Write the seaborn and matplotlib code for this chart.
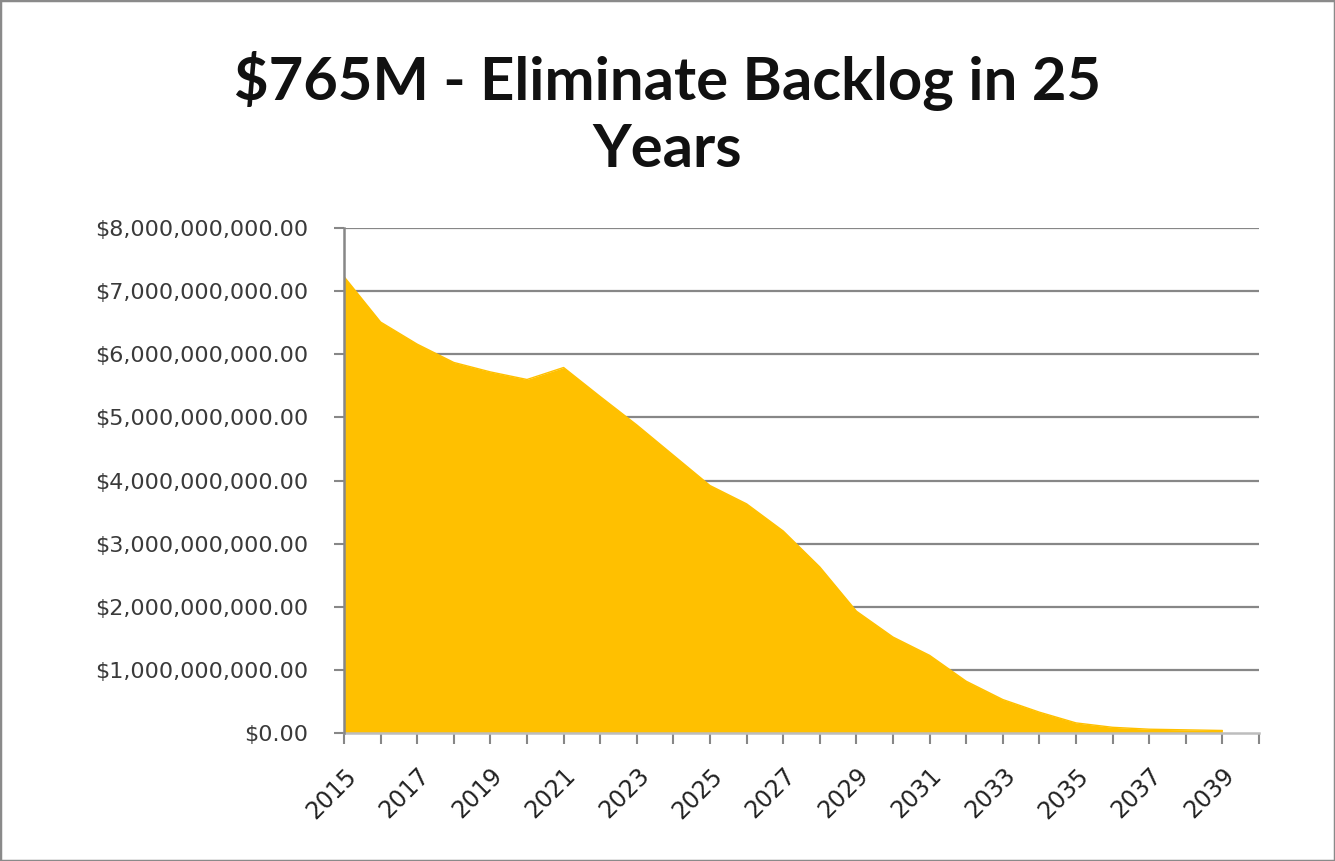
import matplotlib
matplotlib.use("Agg")
import matplotlib.pyplot as plt
from matplotlib.patches import Rectangle
from matplotlib.ticker import FuncFormatter, FixedLocator
import seaborn as sns
import pandas as pd

# Remaining backlog per year (billions of dollars)
years = list(range(2015, 2040))
backlog_billions = [7.23, 6.51, 6.16, 5.87, 5.72, 5.60, 5.79, 5.33, 4.88, 4.40,
                    3.92, 3.63, 3.20, 2.63, 1.93, 1.52, 1.23, 0.82, 0.53, 0.33,
                    0.16, 0.09, 0.06, 0.05, 0.04]
y_ticks_billions = [0, 1, 2, 3, 4, 5, 6, 7, 8]
x_label_years = list(range(2015, 2040, 2))
title_text = "$765M - Eliminate Backlog in 25\nYears"

df = pd.DataFrame({"year": years, "backlog": [v * 1e9 for v in backlog_billions]})

sns.set_theme(style="white")
plt.rcParams["font.family"] = ["Lato", "DejaVu Sans"]

fig = plt.figure(figsize=(13.35, 8.61), dpi=100)
ax = fig.add_axes([344 / 1335, 1 - 733 / 861, (1259 - 344) / 1335, (733 - 228) / 861])

gold = "#FFC000"
grid_gray = "#878787"

ax.fill_between(df["year"], df["backlog"], 0, color=gold, linewidth=0, zorder=2)
sns.lineplot(data=df, x="year", y="backlog", color=gold, linewidth=1.0, ax=ax, zorder=3)

ax.set_xlim(2015, 2040)
ax.set_ylim(0, 8e9)

yt = [v * 1e9 for v in y_ticks_billions]
ax.yaxis.set_major_locator(FixedLocator(yt))
ax.yaxis.set_major_formatter(FuncFormatter(lambda v, p: "${:,.2f}".format(v)))
for v in yt[1:]:
    ax.axhline(v, color=grid_gray, linewidth=1.6, zorder=1)

ax.set_xticks(list(range(2015, 2041)))
ax.set_xticklabels([str(y) if y in x_label_years else "" for y in range(2015, 2041)])

ax.set_xlabel("")
ax.set_ylabel("")

for s in ["top", "right"]:
    ax.spines[s].set_visible(False)
ax.spines["left"].set_color(grid_gray)
ax.spines["left"].set_linewidth(1.8)
ax.spines["left"].set_zorder(4)
ax.spines["bottom"].set_color("#bdbdbd")
ax.spines["bottom"].set_linewidth(1.8)

ax.tick_params(axis="y", which="major", direction="out", length=7, width=1.5,
               color=grid_gray, labelsize=16, labelcolor="#3a3a3a", pad=19, left=True)
ax.tick_params(axis="x", which="major", direction="out", length=8, width=1.5,
               color=grid_gray, labelsize=17, labelcolor="#222222", pad=14, bottom=True)
for lbl in ax.get_yticklabels():
    lbl.set_fontfamily("DejaVu Sans")
for lbl in ax.get_xticklabels():
    lbl.set_fontfamily("DejaVu Sans")
    lbl.set_rotation(45)
    lbl.set_ha("right")
    lbl.set_rotation_mode("anchor")

fig.text(0.5, 1 - 114 / 861, title_text, ha="center", va="center",
         fontsize=43, fontweight="bold", color="#111111", linespacing=1.28)

fig.patches.append(Rectangle((0, 0), 1, 1, transform=fig.transFigure, fill=False,
                             edgecolor="#8a8a8a", linewidth=2.5, zorder=10))

fig.savefig("out.png", dpi=100)
